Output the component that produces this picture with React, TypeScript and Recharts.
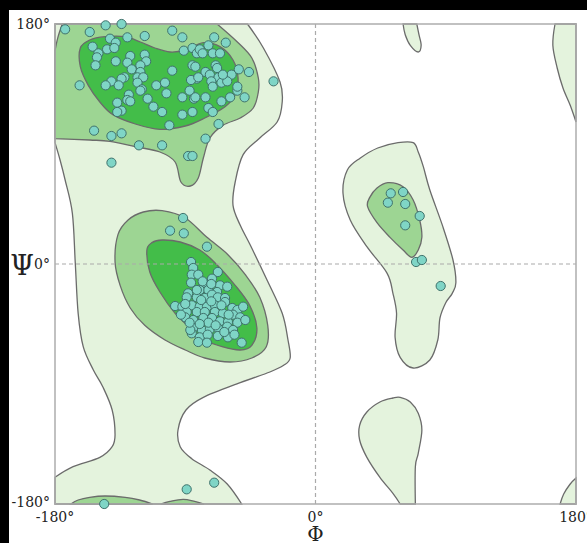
import { ScatterChart, Scatter, XAxis, YAxis } from 'recharts';

type Pt = { phi: number; psi: number };
const toPts = (a: number[][]): Pt[] => a.map(([phi, psi]) => ({ phi, psi }));

const FONT = '"DejaVu Serif", serif';
const LIGHT = '#e4f3dd';
const MID = '#9dd593';
const DARK = '#43bd49';
const OUTLINE = '#6b6b6b';
const DOT_FILL = '#7fd5c6';
const DOT_STROKE = '#3f726c';

const phiTicks = [-180, 0, 180];
const psiTicks = [-180, 0, 180];

// contour outlines, [phi, psi] in degrees
const lightBeta = [
  [-180, 180], [-47, 180], [-36, 162], [-24.5, 136.5], [-23, 121.5], [-26.5, 106.5], [-38.5, 94.5],
  [-50, 82], [-55.5, 61.5], [-57, 44], [-52, 29], [-45, 14], [-33.5, -12], [-23, -37], [-19, -57],
  [-17.5, -70.5], [-22, -76], [-31.5, -81], [-52, -89], [-77.5, -100], [-89.5, -109.5], [-95, -124.5],
  [-93.5, -137], [-85.5, -146], [-73, -154.5], [-61, -165], [-51, -180], [-180, -180], [-180, -160],
  [-167.5, -152], [-149, -145], [-140.5, -137], [-138.5, -128], [-140.5, -109.5], [-147, -92],
  [-153.5, -79.5], [-160.5, -62], [-164, -37], [-166, 1], [-168, 38], [-173, 63], [-176.5, 78], [-180, 91],
];
const midBeta = [
  [-175, 180], [-68, 180], [-54, 166.5], [-44, 154.5], [-39.5, 139.5], [-39.5, 129], [-43, 117],
  [-52, 109.5], [-64, 104], [-73, 94.5], [-77.5, 79.5], [-81, 64.5], [-86.5, 58.5], [-93, 61.5],
  [-97, 76.5], [-107.5, 84], [-124.5, 88], [-142, 92], [-156, 93], [-180, 94], [-180, 160], [-178, 170],
];
const darkBeta = [
  [-162.5, 162], [-156, 168], [-145.5, 170.5], [-131.5, 170.5], [-121, 166.5], [-111, 162],
  [-100.5, 159], [-90, 160.5], [-77.5, 166], [-66, 163], [-57, 153], [-53.5, 139.5], [-55.5, 127],
  [-62.5, 118], [-76.5, 109.5], [-90, 103.5], [-107.5, 101], [-124.5, 105], [-140, 112],
  [-149, 121.5], [-157, 134], [-162.5, 148],
];
const midAlpha = [
  [-136.5, 22], [-129.5, 33], [-119, 39], [-106, 40], [-90, 34.5], [-75, 20], [-60.5, 7],
  [-48.5, -8], [-38.5, -25], [-33, -46], [-34, -62], [-44, -70.5], [-59, -73.5], [-76.5, -70.5],
  [-90, -64.5], [-104, -57], [-118, -46], [-128, -33], [-135, -16], [-138.5, 1.5],
];
const darkAlpha = [
  [-116.5, 10.5], [-113, 16], [-106, 18], [-93.5, 16.5], [-80, 10.5], [-69.5, 1], [-55.5, -16],
  [-45.5, -31], [-40.5, -48], [-44, -61], [-52, -64.5], [-64.5, -62], [-76.5, -57], [-86.5, -48],
  [-97, -37], [-107.5, -21], [-114.5, -6],
];
const lightLeftAlpha = [
  [22, 70.5], [31, 79.5], [43, 87], [57, 91], [67.5, 91], [71, 84], [74.5, 73], [79, 55.5], [88, 28],
  [95, 3], [97, -14], [94.5, -22], [90, -29], [86, -40.5], [84.5, -57], [79, -72], [67.5, -78],
  [58.5, -70], [55, -55], [56, -37], [53.5, -22], [49.5, -7], [35.5, 13], [24, 33], [19, 53],
];
const midLeftAlpha = [
  [37.5, 50], [42.5, 57], [50, 61], [60.5, 58], [67.5, 48], [72, 33], [73.5, 20], [71, 10.5],
  [66.5, 5], [60.5, 10.5], [51.5, 20], [42.5, 31], [36, 43],
];
const lightGammaLow = [
  [53.5, -100.5], [44.5, -103.5], [35.5, -111], [30.5, -121], [30.5, -132], [35.5, -145],
  [44.5, -160], [53.5, -172], [58.5, -180], [69, -180], [69, -152], [71, -142], [73.5, -124.5],
  [71, -112], [65.5, -103.5], [58.5, -100],
];
const lightGammaHigh = [[60.5, 180], [62, 172], [65.5, 164], [71, 159], [73, 164], [71.5, 172], [70, 180]];
const lightCornerTop = [[165.5, 180], [180, 180], [180, 106.5], [176, 119], [171, 132], [167, 147], [164, 164]];
const lightCornerBottom = [[169, -180], [171.5, -172.5], [176, -165], [180, -160.5], [180, -180]];
const midEdgeA = [[-169, -180], [-164, -177], [-156, -175], [-145.5, -174], [-131.5, -175], [-121.5, -177], [-112.5, -180]];
const midEdgeB = [[-107, -180], [-100.5, -178], [-91.5, -176.5], [-83.5, -178], [-77, -180]];

// residues, [phi, psi] in degrees
const betaResidues = [
  [-173, 176], [-156, 174], [-145, 179], [-134, 180], [-154, 163], [-142, 169], [-138, 166], [-144, 161],
  [-139, 162], [-130, 170], [-118, 171], [-99, 175], [-92, 170], [-150, 158], [-151, 155], [-152, 149],
  [-138, 152], [-128, 156], [-118, 157], [-117, 152], [-130, 151], [-127, 146], [-121, 149], [-121, 144],
  [-123, 140], [-119, 140], [-132, 140], [-134, 139], [-141, 137], [-145, 134], [-136, 134], [-129, 127],
  [-123, 136], [-120, 131], [-110, 134], [-104, 136], [-103, 128], [-99, 145], [-91, 160], [-85, 162],
  [-82, 158], [-85, 149], [-82, 139], [-86, 138], [-87, 130], [-92, 125], [-84, 124], [-92, 112],
  [-85, 114], [-163, 134], [-130, 123], [-137, 121], [-134, 115], [-116, 124], [-112, 118], [-106, 114],
  [-101, 104], [-153, 100], [-141, 96], [-134, 98], [-122, 89], [-106, 89], [-88, 81], [-85, 81],
  [-141, 76], [-70, 170], [-62, 166], [-74, 164], [-80, 161], [-78, 158], [-71, 158], [-66, 158],
  [-69, 149], [-83, 148], [-76, 144], [-68, 147], [-58, 142], [-53, 146], [-46, 144], [-73, 142],
  [-67, 140], [-81, 140], [-72, 137], [-65, 136], [-71, 133], [-61, 137], [-83, 125], [-76, 125],
  [-59, 125], [-54, 130], [-49, 125], [-65, 122], [-74, 117], [-71, 114], [-67, 105], [-76, 94],
  [-54, 133], [-64, 142], [-128, 122], [-137, 114], [-121, 130],
];
const alphaResidues = [
  [-100.5, 25], [-91, 23], [-91.5, 34.5], [-75, 13], [-86, 1.5], [-84.5, -3], [-85.5, -8], [-81, -8],
  [-67.5, -6], [-77.5, -14], [-71.5, -11], [-66, -16], [-61, -17], [-80, -19.5], [-74, -19.5], [-68, -21],
  [-88, -22], [-82, -25], [-76.5, -25.5], [-71.5, -23], [-67.5, -25], [-62.5, -25.5], [-89, -25],
  [-97, -31.5], [-92, -32], [-85.5, -31], [-80, -32], [-75, -32], [-69.5, -31], [-62.5, -28.5],
  [-57.5, -33], [-54, -34.5], [-50, -32], [-89, -36], [-82, -36], [-76.5, -36], [-69.5, -36], [-64, -37],
  [-57, -38], [-52, -40], [-90, -40], [-84.5, -42], [-77.5, -40.5], [-71.5, -40.5], [-66, -43],
  [-60.5, -43.5], [-54, -44], [-48.5, -42], [-84.5, -48], [-78.5, -49.5], [-73, -49], [-67.5, -48],
  [-61, -47], [-57, -49.5], [-85.5, -52], [-80, -55], [-74.5, -53], [-67.5, -54], [-60.5, -55],
  [-81, -58.5], [-75, -59], [-51, -59], [-86.5, -49.5], [-82, -19.5],
  [-79, -27], [-72, -28], [-65, -31], [-60, -38], [-74, -44], [-80, -45], [-69, -46], [-63, -51],
  [-56, -53], [-87, -44], [-93, -38], [-78, -13], [-72, -15], [-86, -14], [-90, -30],
];
const leftAlphaResidues = [
  [52, 53], [60.5, 54], [50, 46], [62, 45], [72, 36], [62, 29], [69.5, 1.5], [73.5, 3], [86.5, -16.5],
];
const otherResidues = [[-29, 137], [-146, -180], [-89, -169], [-70, -164]];

const frame = [[-180, -180], [-180, 180], [180, 180], [180, -180]];
const phiZero = [[0, -180], [0, 180]];
const psiZero = [[-180, 0], [180, 0]];

// closed cubic through the scaled vertices; vertices on the frame get no tangent so edges stay straight
function closedPath(p: { x: number; y: number }[], poly: Pt[]) {
  const n = p.length;
  const onEdge = (i: number) => Math.abs(poly[i].phi) === 180 || Math.abs(poly[i].psi) === 180;
  const tan = (i: number) => {
    if (onEdge(i)) return { x: 0, y: 0 };
    const a = p[(i - 1 + n) % n];
    const b = p[(i + 1) % n];
    return { x: (b.x - a.x) / 6, y: (b.y - a.y) / 6 };
  };
  let d = `M${p[0].x},${p[0].y}`;
  for (let i = 0; i < n; i++) {
    const j = (i + 1) % n;
    const t1 = tan(i);
    const t2 = tan(j);
    d += `C${p[i].x + t1.x},${p[i].y + t1.y} ${p[j].x - t2.x},${p[j].y - t2.y} ${p[j].x},${p[j].y}`;
  }
  return d + 'Z';
}

const noDot = () => <g />;

function Contour(raw: number[][], fill: string, key: string) {
  const poly = toPts(raw);
  return (
    <Scatter
      key={key}
      data={poly}
      isAnimationActive={false}
      legendType="none"
      shape={noDot}
      line={(props: any) => (
        <path d={closedPath(props.points, poly)} fill={fill} stroke={OUTLINE} strokeWidth={1.3} />
      )}
    />
  );
}

const dot = (p: any) => (
  <circle cx={p.cx} cy={p.cy} r={4.6} fill={DOT_FILL} stroke={DOT_STROKE} strokeWidth={1} />
);

const PhiTick = ({ x, y, payload }: any) => (
  <g fontFamily={FONT} fill="#222">
    <text x={x} y={y + 18} textAnchor="middle" fontSize={14}>{`${payload.value}°`}</text>
    {payload.value === 0 && (
      <text x={x} y={y + 37} textAnchor="middle" fontSize={20}>Φ</text>
    )}
  </g>
);

const PsiTick = ({ x, y, payload }: any) => (
  <g fontFamily={FONT} fill="#222">
    {payload.value === 0 && (
      <text x={x - 33} y={y + 11} textAnchor="middle" fontSize={27}>Ψ</text>
    )}
    <text x={x - 5} y={payload.value === -180 ? y + 3 : y + 5} textAnchor="end" fontSize={14}>
      {`${payload.value}°`}
    </text>
  </g>
);

export default function App() {
  return (
    <div style={{ position: 'fixed', left: 0, top: 0, width: 587, height: 543, background: '#000', overflow: 'hidden' }}>
      <div style={{ position: 'absolute', left: 9, top: 10, right: 0, bottom: 0, background: '#fff' }} />
      <div style={{ position: 'absolute', left: 0, top: 0 }}>
        <ScatterChart width={587} height={543} margin={{ top: 24, right: 11, bottom: 0, left: 0 }}>
          <XAxis
            type="number"
            dataKey="phi"
            domain={[-180, 180]}
            ticks={phiTicks}
            interval={0}
            axisLine={false}
            tickLine={false}
            tickSize={0}
            tickMargin={0}
            height={39}
            tick={PhiTick}
          />
          <YAxis
            type="number"
            dataKey="psi"
            domain={[-180, 180]}
            ticks={psiTicks}
            interval={0}
            axisLine={false}
            tickLine={false}
            tickSize={0}
            tickMargin={0}
            width={55}
            tick={PsiTick}
          />
          {Contour(lightBeta, LIGHT, 'lb')}
          {Contour(lightLeftAlpha, LIGHT, 'll')}
          {Contour(lightGammaLow, LIGHT, 'lg1')}
          {Contour(lightGammaHigh, LIGHT, 'lg2')}
          {Contour(lightCornerTop, LIGHT, 'lc1')}
          {Contour(lightCornerBottom, LIGHT, 'lc2')}
          {Contour(midBeta, MID, 'mb')}
          {Contour(midAlpha, MID, 'ma')}
          {Contour(midLeftAlpha, MID, 'ml')}
          {Contour(midEdgeA, MID, 'me1')}
          {Contour(midEdgeB, MID, 'me2')}
          {Contour(darkBeta, DARK, 'db')}
          {Contour(darkAlpha, DARK, 'da')}
          <Scatter
            data={toPts(phiZero)}
            isAnimationActive={false}
            legendType="none"
            shape={noDot}
            line={{ stroke: '#aaaaaa', strokeWidth: 1.2, strokeDasharray: '4 3' }}
          />
          <Scatter
            data={toPts(psiZero)}
            isAnimationActive={false}
            legendType="none"
            shape={noDot}
            line={{ stroke: '#aaaaaa', strokeWidth: 1.2, strokeDasharray: '4 3' }}
          />
          <Scatter
            data={toPts(frame)}
            isAnimationActive={false}
            legendType="none"
            shape={noDot}
            lineJointType="linearClosed"
            line={{ stroke: '#adadad', strokeWidth: 1.5, fill: 'none' }}
          />
          <Scatter data={toPts(betaResidues)} isAnimationActive={false} shape={dot} />
          <Scatter data={toPts(alphaResidues)} isAnimationActive={false} shape={dot} />
          <Scatter data={toPts(leftAlphaResidues)} isAnimationActive={false} shape={dot} />
          <Scatter data={toPts(otherResidues)} isAnimationActive={false} shape={dot} />
        </ScatterChart>
      </div>
    </div>
  );
}
